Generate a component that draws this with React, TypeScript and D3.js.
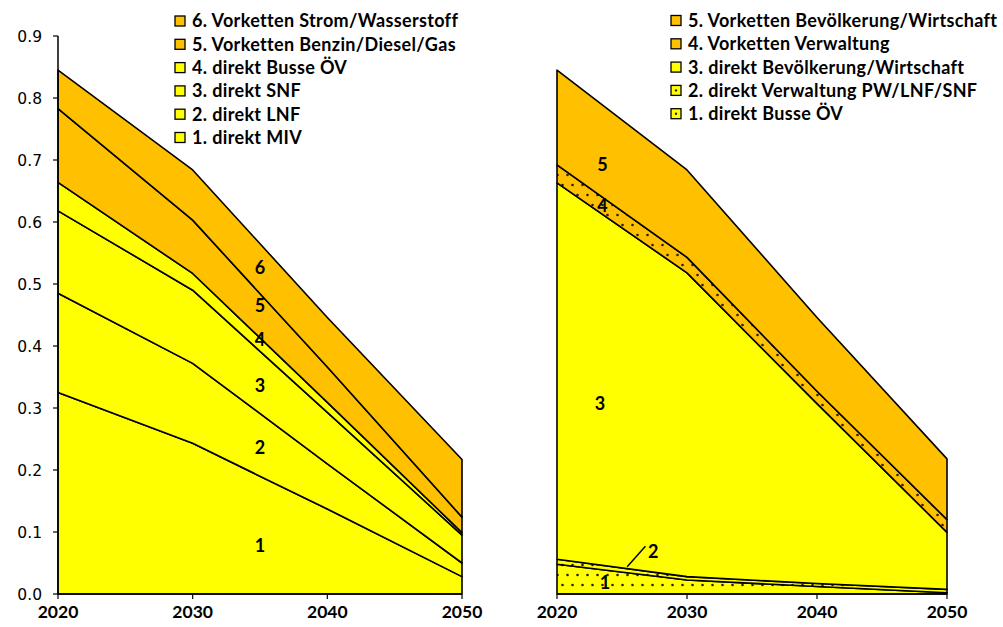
import React from "react";
import * as d3 from "d3";

// years on the x axis
const years = [2020, 2030, 2040, 2050];
const yTicks = [0, 0.1, 0.2, 0.3, 0.4, 0.5, 0.6, 0.7, 0.8, 0.9];

// left chart: Verkehr
const leftKeys = [
  "1. direkt MIV",
  "2. direkt LNF",
  "3. direkt SNF",
  "4. direkt Busse ÖV",
  "5. Vorketten Benzin/Diesel/Gas",
  "6. Vorketten Strom/Wasserstoff",
];
const directMIV = [0.325, 0.243, 0.137, 0.028];
const directLNF = [0.16, 0.129, 0.073, 0.022];
const directSNF = [0.133, 0.118, 0.083, 0.045];
const directBusse = [0.046, 0.027, 0.016, 0.004];
const chainFuel = [0.119, 0.086, 0.057, 0.025];
const chainPower = [0.062, 0.081, 0.08, 0.093];
const leftSeries = [directMIV, directLNF, directSNF, directBusse, chainFuel, chainPower];
const leftLabels = ["1", "2", "3", "4", "5", "6"];
const leftLabelYear = [2035, 2035, 2035, 2035, 2035, 2035];
const leftLabelValue = [0.079, 0.237, 0.337, 0.411, 0.465, 0.527];

// right chart: Bevölkerung / Wirtschaft / Verwaltung
const rightKeys = [
  "1. direkt Busse ÖV",
  "2. direkt Verwaltung PW/LNF/SNF",
  "3. direkt Bevölkerung/Wirtschaft",
  "4. Vorketten Verwaltung",
  "5. Vorketten Bevölkerung/Wirtschaft",
];
const rDirectBusse = [0.048, 0.0225, 0.012, 0.002];
const rDirectAdmin = [0.008, 0.0055, 0.005, 0.0055];
const rDirectPop = [0.607, 0.49, 0.29, 0.092];
const rChainAdmin = [0.029, 0.025, 0.02, 0.0205];
const rChainPop = [0.153, 0.141, 0.119, 0.098];
const rightSeries = [rDirectBusse, rDirectAdmin, rDirectPop, rChainAdmin, rChainPop];
const rightLabels = ["1", "2", "3", "4", "5"];
const rightLabelYear = [2023.7, 2027.4, 2023.3, 2023.5, 2023.5];
const rightLabelValue = [0.019, 0.069, 0.308, 0.627, 0.692];

const YELLOW = "#FFFF00";
const ORANGE = "#FFC000";
const leftFills = [YELLOW, YELLOW, YELLOW, YELLOW, ORANGE, ORANGE];
const rightFills = ["url(#dotYellow)", "url(#dotYellow)", YELLOW, "url(#dotOrange)", ORANGE];

const labelFont = "Lato, 'Open Sans', sans-serif";

type Row = { year: number; [k: string]: number };

function buildRows(keys: string[], series: number[][]): Row[] {
  return years.map((year, i) => {
    const row: Row = { year };
    keys.forEach((k, j) => (row[k] = series[j][i]));
    return row;
  });
}

const y = d3.scaleLinear().domain([0, 0.9]).range([594, 36]);

interface PanelProps {
  keys: string[];
  series: number[][];
  fills: string[];
  x0: number;
  x1: number;
  showY: boolean;
  labels: string[];
  labelYear: number[];
  labelValue: number[];
  legendX: number;
  legendY: number;
}

const Panel: React.FC<PanelProps> = (p) => {
  const x = d3.scaleLinear().domain([2020, 2050]).range([p.x0, p.x1]);
  const stacked = d3.stack<Row>().keys(p.keys)(buildRows(p.keys, p.series));
  const area = d3
    .area<d3.SeriesPoint<Row>>()
    .x((d) => x(d.data.year))
    .y0((d) => y(d[0]))
    .y1((d) => y(d[1]));

  // legend lists top layer first
  const legendOrder = p.keys.map((_, i) => i).reverse();

  return (
    <g>
      {stacked.map((s, i) => (
        <path key={s.key} d={area(s) || ""} fill={p.fills[i]} stroke="#000" strokeWidth={1.6} strokeLinejoin="round" />
      ))}
      {/* x axis */}
      <line x1={p.x0} x2={p.x1} y1={y(0)} y2={y(0)} stroke="#000" strokeWidth={1.5} />
      {years.map((yr) => (
        <g key={yr}>
          <line x1={x(yr)} x2={x(yr)} y1={y(0)} y2={y(0) + 5} stroke="#000" strokeWidth={1.2} />
          <text x={x(yr)} y={618} textAnchor="middle" fontFamily={labelFont} fontWeight="bold" fontSize={17.5}>
            {yr}
          </text>
        </g>
      ))}
      {p.showY && (
        <g>
          <line x1={p.x0} x2={p.x0} y1={y(0.9)} y2={y(0)} stroke="#000" strokeWidth={1.5} />
          {yTicks.map((t) => (
            <g key={t}>
              <line x1={p.x0 - 5} x2={p.x0} y1={y(t)} y2={y(t)} stroke="#000" strokeWidth={1.2} />
              <text x={42} y={y(t)} dy="0.36em" textAnchor="end" fontFamily="'DejaVu Sans', sans-serif" fontSize={15.5}>
                {t.toFixed(1)}
              </text>
            </g>
          ))}
        </g>
      )}
      {p.labels.map((l, i) => (
        <text
          key={l}
          x={x(p.labelYear[i])}
          y={y(p.labelValue[i])}
          dy="0.36em"
          textAnchor="middle"
          fontFamily={labelFont}
          fontWeight="bold"
          fontSize={18}
        >
          {l}
        </text>
      ))}
      {legendOrder.map((idx, row) => {
        const cy = p.legendY + row * 23.3;
        return (
          <g key={p.keys[idx]}>
            <rect x={p.legendX} y={cy - 5} width={10} height={10} fill={p.fills[idx].startsWith("url") ? (p.fills[idx].includes("Orange") ? ORANGE : YELLOW) : p.fills[idx]} stroke="#000" strokeWidth={1.3} />
            {p.fills[idx] === "url(#dotYellow)" && <circle cx={p.legendX + 5} cy={cy} r={1.2} fill="#222" />}
            <text x={p.legendX + 17} y={cy} dy="0.36em" fontFamily={labelFont} fontWeight="bold" fontSize={18} letterSpacing={0.35}>
              {p.keys[idx]}
            </text>
          </g>
        );
      })}
    </g>
  );
};

export default function App() {
  const rx = d3.scaleLinear().domain([2020, 2050]).range([557, 947]);
  return (
    <svg width={1003} height={627} style={{ position: "absolute", left: 0, top: 0, background: "#fff" }}>
      <defs>
        <pattern id="dotYellow" width={10} height={20} patternUnits="userSpaceOnUse">
          <rect width={10} height={20} fill={YELLOW} />
          <circle cx={2.5} cy={5} r={1.3} fill="#222" />
          <circle cx={7.5} cy={15} r={1.3} fill="#222" />
        </pattern>
        <pattern id="dotOrange" width={10} height={20} patternUnits="userSpaceOnUse">
          <rect width={10} height={20} fill={ORANGE} />
          <circle cx={2.5} cy={5} r={1.3} fill="#222" />
          <circle cx={7.5} cy={15} r={1.3} fill="#222" />
        </pattern>
      </defs>
      <Panel
        keys={leftKeys}
        series={leftSeries}
        fills={leftFills}
        x0={58}
        x1={462}
        showY={true}
        labels={leftLabels}
        labelYear={leftLabelYear}
        labelValue={leftLabelValue}
        legendX={175}
        legendY={21}
      />
      <Panel
        keys={rightKeys}
        series={rightSeries}
        fills={rightFills}
        x0={557}
        x1={947}
        showY={false}
        labels={rightLabels}
        labelYear={rightLabelYear}
        labelValue={rightLabelValue}
        legendX={671}
        legendY={20.5}
      />
      {/* leader line for label 2 */}
      <line x1={rx(2026.8)} y1={y(0.077)} x2={rx(2025.4)} y2={y(0.044)} stroke="#000" strokeWidth={1.5} />
    </svg>
  );
}
